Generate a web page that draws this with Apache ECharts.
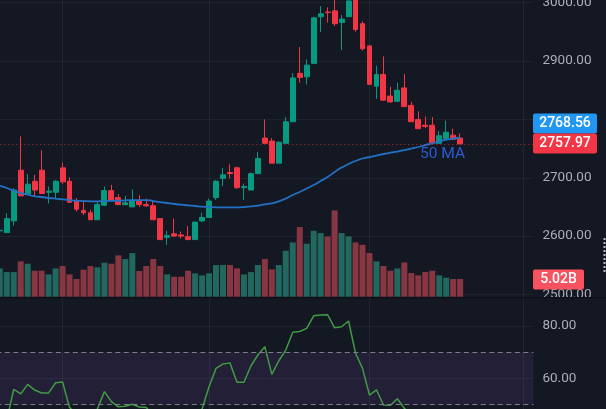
<!DOCTYPE html>
<html>
<head>
<meta charset="utf-8">
<style>html,body{margin:0;padding:0;background:#141823}#chart{width:606px;height:409px}</style>
<script src="https://cdn.jsdelivr.net/npm/echarts@6/dist/echarts.min.js"></script>
</head>
<body>
<div id="chart"></div>
<script>
const slotCount = 77;
const monthStarts = [9, 30, 53, 75];
const opens = [2609,2606,2626,2713,2672,2694,2713,2675,2675,2717,2694,2661,2644,2640,2628,2653,2678,2666,2654,2650,2660,2654,2652,2630,2598,2604,2602,2599,2594,2626,2632,2666,2699,2709,2717,2683,2679,2707,2768,2763,2725,2759,2796,2879,2873,2896,2976,2984,2986,2966,2976,3012,2964,2926,2857,2877,2840,2831,2854,2824,2800,2790,2790,2759,2767,2773,2768];
const closes = [2610,2630,2679,2669,2689,2679,2673,2677,2694,2693,2658,2646,2640,2628,2654,2678,2662,2654,2657,2660,2654,2652,2628,2594,2601,2600,2600,2594,2624,2632,2660,2694,2705,2707,2683,2685,2707,2733,2759,2725,2761,2796,2871,2872,2893,2974,2981,2983,2964,2972,3003,2954,2921,2860,2877,2833,2830,2850,2822,2796,2784,2788,2760,2772,2778,2766,2757.97];
const lows = [2608,2606,2618,2669,2671,2668,2672,2656,2665,2689,2657,2642,2636,2628,2628,2652,2662,2654,2653,2650,2650,2650,2628,2594,2585,2599,2596,2594,2594,2624,2632,2662,2686,2699,2681,2662,2679,2707,2758,2725,2725,2759,2796,2863,2860,2896,2950,2966,2960,2919,2976,2950,2918,2860,2835,2832,2829,2831,2821,2796,2784,2785,2760,2759,2767,2766,2758];
const highs = [2611,2639,2682,2771,2706,2705,2747,2685,2696,2726,2701,2665,2662,2645,2659,2685,2688,2672,2669,2680,2670,2664,2662,2631,2609,2630,2608,2617,2625,2640,2664,2696,2717,2723,2719,2690,2709,2744,2800,2768,2762,2804,2879,2924,2903,2976,2994,2992,3010,2979,3006,3020,2968,2926,2892,2908,2856,2863,2878,2830,2814,2805,2804,2780,2798,2784,2776];
const ma50 = [2686.3,2682.4,2677.8,2673.8,2670.9,2668.2,2667,2665.3,2664.1,2663,2661.8,2660.6,2660.1,2659.6,2659.6,2660.1,2660.5,2660.6,2661.3,2661.8,2661.8,2661.8,2660.1,2658.4,2656.7,2655,2653.8,2652.8,2651.6,2650.4,2649.8,2649.3,2649.3,2649.3,2649.3,2649.8,2651,2652.1,2654.5,2656.2,2659.6,2664.4,2670.4,2675.6,2681.6,2687.5,2694.4,2701.3,2709.8,2717.5,2723.5,2728.7,2733,2735.5,2738.1,2740.7,2742.9,2744.9,2747.5,2750.1,2752.7,2756.1,2758.7,2762.1,2765.2,2767.2,2768.56];
const volumes = [8.03,6.99,6.99,10.02,9.36,7.37,7.37,6.33,8.03,8.69,6.33,5.01,7.65,8.69,8.32,9.64,9.36,11.72,10.68,12.38,7.28,8.69,10.68,8.69,6.33,5.67,5.67,7.37,6.62,6.05,6.62,8.98,8.98,8.98,8.03,6.33,6.99,8.98,10.68,7.75,8.98,13.04,15.4,19.75,15.03,18.71,18.05,17.1,24.48,18.05,17.1,15.4,14.74,12.38,10.02,8.69,7.37,8.03,9.73,6.71,6.05,6.99,7.37,6.05,5.39,5.01,5.02];
const rsi = [44,44,55.8,54,57.7,55.5,54.4,54.4,58.3,58.6,48.9,46,44,45,48.3,54.9,51.1,49.1,49.3,50.1,49,48.8,46,44,38,39,40,39,42,48.3,56.8,63.8,65.5,65.9,58.5,58.5,64.7,68.9,72.1,61.5,66.7,70.8,77.6,77.9,79.1,83.9,84.2,84.3,79.3,79.7,81.9,69.6,63.8,53.6,55.6,49.8,49.7,52.2,48.5,46,47,45,44,46,47,46,45];
const lastClose = 2757.97;
const lastMa = '2768.56';
const lastVolume = '5.02B';

const bg = '#141823', gridColor = '#1f232e', up = '#089981', down = '#f23645';
const upVol = '#22685f', downVol = '#893643';
const labelFont = 'Roboto';
const slots = Array.from({length: slotCount}, (_, i) => String(i));
const candles = opens.map((o, i) => [o, closes[i], lows[i], highs[i]]);
const volumeBars = volumes.map((v, i) => ({
  value: v,
  itemStyle: {color: closes[i] >= opens[i] ? upVol : downVol}
}));

const plotLeft = -3.7, plotWidth = 537.1;
const hiddenX = (gridIndex, extra) => Object.assign({
  type: 'category', gridIndex, data: slots, boundaryGap: true,
  axisLine: {show: false}, axisTick: {show: false}, axisLabel: {show: false}, splitLine: {show: false}
}, extra);

function tag(x, y, w, color, text) {
  return {
    type: 'rect', z: 60, shape: {x, y, width: w, height: 20, r: 2}, style: {fill: color},
    textContent: {style: {text, fill: '#fff', font: '500 14px ' + labelFont}, z: 61},
    textConfig: {position: 'inside'}
  };
}

const chart = echarts.init(document.getElementById('chart'), null, {renderer: 'canvas'});
chart.setOption({
  animation: false,
  backgroundColor: bg,
  grid: [
    {left: plotLeft, width: plotWidth, top: 2.7, height: 291.75, outerBoundsMode: 'none'},
    {left: plotLeft, width: plotWidth, top: 155.7, height: 141, outerBoundsMode: 'none'},
    {left: plotLeft, width: plotWidth, top: 326, height: 104.6, outerBoundsMode: 'none'},
    {left: plotLeft, width: plotWidth, top: 0, height: 409, outerBoundsMode: 'none'}
  ],
  xAxis: [
    hiddenX(0),
    hiddenX(1),
    hiddenX(2),
    hiddenX(3, {splitLine: {show: true, alignWithLabel: true, interval: i => monthStarts.includes(i), lineStyle: {color: '#22262f', width: 1}}})
  ],
  yAxis: [
    {type: 'value', gridIndex: 0, position: 'right', min: 2500, max: 3000, interval: 100,
      axisLine: {show: false}, axisTick: {show: false},
      axisLabel: {color: '#abaeb8', fontFamily: labelFont, fontSize: 13.5, margin: 9, padding: [3, 0, 0, 0], formatter: v => v.toFixed(2)},
      splitLine: {lineStyle: {color: gridColor, width: 1}}},
    {type: 'value', gridIndex: 1, min: 0, max: 40, show: false},
    {type: 'value', gridIndex: 2, position: 'right', min: 40, max: 80, interval: 20,
      axisLine: {show: false}, axisTick: {show: false},
      axisLabel: {color: '#abaeb8', fontFamily: labelFont, fontSize: 13.5, margin: 9, padding: [3, 0, 0, 0], formatter: v => v.toFixed(2)},
      splitLine: {lineStyle: {color: gridColor, width: 1}}},
    {type: 'value', gridIndex: 3, min: 0, max: 1, show: false}
  ],
  series: [
    {name: 'Volume', type: 'bar', xAxisIndex: 1, yAxisIndex: 1, data: volumeBars, barWidth: 6, z: 1},
    {name: 'Price', type: 'candlestick', xAxisIndex: 0, yAxisIndex: 0, data: candles, clip: false, barWidth: 5.4, z: 3,
      itemStyle: {color: up, color0: down, borderColor: up, borderColor0: down, borderWidth: 1},
      markLine: {silent: true, symbol: 'none', label: {show: false}, animation: false,
        lineStyle: {color: down, type: [1, 3], width: 1, opacity: 0.75}, data: [{yAxis: lastClose}]}},
    {name: '50 MA', type: 'line', xAxisIndex: 0, yAxisIndex: 0, data: ma50, showSymbol: false, smooth: true, clip: false, z: 4,
      lineStyle: {color: '#2271c4', width: 1.8}},
    {name: 'RSI', type: 'line', xAxisIndex: 2, yAxisIndex: 2, data: rsi, showSymbol: false, clip: false, z: 4,
      lineStyle: {color: '#419a44', width: 1.5},
      markArea: {silent: true, itemStyle: {color: 'rgba(130,85,190,0.13)'}, data: [[{yAxis: 70}, {yAxis: 50}]]},
      markLine: {silent: true, symbol: 'none', label: {show: false}, animation: false,
        lineStyle: {color: '#7b7d87', type: [5, 3.5], width: 1}, data: [{yAxis: 70}, {yAxis: 50}]}}
  ],
  graphic: [
    {type: 'rect', z: 50, shape: {x: 533, y: 297, width: 73, height: 22}, style: {fill: bg}},
    {type: 'rect', z: 51, shape: {x: 0, y: 297, width: 606, height: 1.5}, style: {fill: '#0e1118'}},
    {type: 'line', z: 51, shape: {x1: 604.5, y1: 238, x2: 604.5, y2: 272}, style: {stroke: '#b7b9c0', lineWidth: 2, lineDash: [2, 2]}},
    {type: 'text', z: 60, x: 420, y: 146, style: {text: '50 MA', fill: '#2a5bd0', font: '15.5px ' + labelFont}},
    tag(533, 113.5, 64, '#2196f3', lastMa),
    tag(533, 133.5, 64, '#f23645', lastClose.toFixed(2)),
    tag(533, 269.5, 51, '#f7525f', lastVolume)
  ]
});
</script>
</body>
</html>
